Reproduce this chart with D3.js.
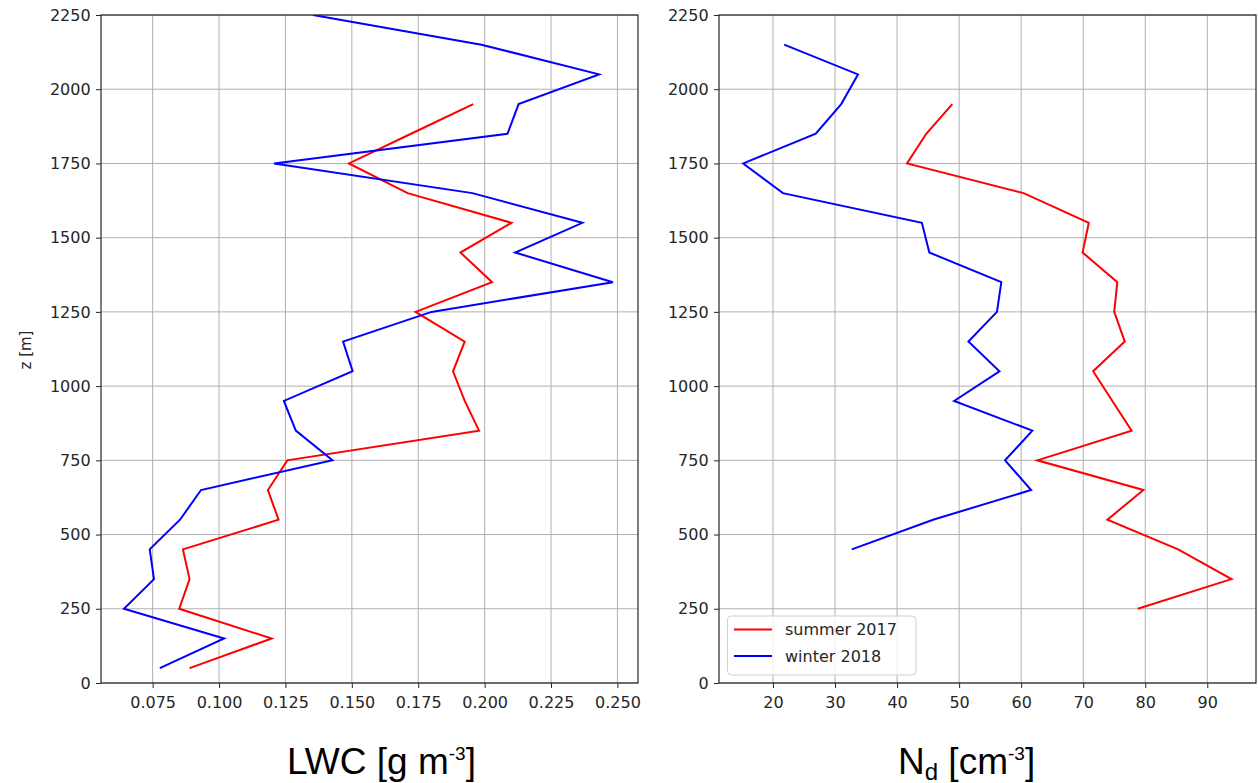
<!DOCTYPE html>
<html><head><meta charset="utf-8">
<script src="https://cdn.jsdelivr.net/npm/d3@7"></script>
<style>body{margin:0;background:#fff}svg{display:block}</style>
</head><body>
<svg id="c" width="1258" height="783"></svg>
<script>
const zLwcSummer = [50,150,250,350,450,550,650,750,850,950,1050,1150,1250,1350,1450,1550,1650,1750,1850,1950];
const lwcSummer  = [0.0889,0.1198,0.0850,0.0889,0.0864,0.1224,0.1184,0.1257,0.1979,0.1925,0.1881,0.1925,0.1740,0.2028,0.1909,0.2101,0.1710,0.1489,0.1723,0.1957];
const zLwcWinter = [50,150,250,350,450,550,650,750,850,950,1050,1150,1250,1350,1450,1550,1650,1750,1850,1950,2050,2150,2250];
const lwcWinter  = [0.0777,0.1019,0.0642,0.0755,0.0739,0.0853,0.0932,0.1427,0.1289,0.1244,0.1503,0.1467,0.1800,0.2483,0.2115,0.2368,0.1954,0.1207,0.2086,0.2128,0.2431,0.1988,0.1354];
const zNdSummer = [250,350,450,550,650,750,850,950,1050,1150,1250,1350,1450,1550,1650,1750,1850,1950];
const ndSummer  = [78.8,93.9,85.3,73.9,79.7,62.6,77.8,74.7,71.6,76.7,75.0,75.5,69.9,70.9,60.4,41.6,44.7,48.9];
const zNdWinter = [450,550,650,750,850,950,1050,1150,1250,1350,1450,1550,1650,1750,1850,1950,2050,2150];
const ndWinter  = [32.7,45.8,61.6,57.4,61.8,49.2,56.5,51.5,56.1,56.8,45.2,44.0,21.6,15.2,26.9,31.0,33.7,21.8];
const zTicks = [0,250,500,750,1000,1250,1500,1750,2000,2250];
const lwcTicks = [0.075,0.100,0.125,0.150,0.175,0.200,0.225,0.250];
const ndTicks = [20,30,40,50,60,70,80,90];
const seriesNames = ["summer 2017","winter 2018"];
const seriesColors = ["#ff0000","#0000ff"];

const svg = d3.select("#c");
const plotTop = 15, plotBottom = 683;
const y = d3.scaleLinear().domain([0,2250]).range([plotBottom, plotTop]);

function panel(x0, x1, xdom, xticks, fmt, series) {
  const x = d3.scaleLinear().domain(xdom).range([x0, x1]);
  const g = svg.append("g");
  g.selectAll(".gx").data(xticks).enter().append("line")
    .attr("x1", d=>x(d)).attr("x2", d=>x(d)).attr("y1", plotTop).attr("y2", plotBottom)
    .attr("stroke", "#b0b0b0").attr("stroke-width", 1);
  g.selectAll(".gy").data(zTicks).enter().append("line")
    .attr("x1", x0).attr("x2", x1).attr("y1", d=>y(d)).attr("y2", d=>y(d))
    .attr("stroke", "#b0b0b0").attr("stroke-width", 1);
  const clipId = "clip" + Math.round(x0);
  svg.append("clipPath").attr("id", clipId).append("rect")
    .attr("x", x0).attr("y", plotTop).attr("width", x1-x0).attr("height", plotBottom-plotTop);
  series.forEach(s => {
    const pts = s.z.map((z,i)=>[s.v[i], z]);
    g.append("path").datum(pts)
      .attr("clip-path", `url(#${clipId})`)
      .attr("fill","none").attr("stroke", s.color).attr("stroke-width", 2)
      .attr("d", d3.line().x(d=>x(d[0])).y(d=>y(d[1])));
  });
  const ax = g.append("g").attr("transform", `translate(0,${plotBottom})`)
    .call(d3.axisBottom(x).tickValues(xticks).tickFormat(fmt).tickSize(5).tickSizeOuter(0));
  const ay = g.append("g").attr("transform", `translate(${x0},0)`)
    .call(d3.axisLeft(y).tickValues(zTicks).tickFormat(d3.format("d")).tickSize(5).tickSizeOuter(0));
  [ax, ay].forEach(a => {
    a.select(".domain").remove();
    a.selectAll("text").attr("font-family","DejaVu Sans").attr("font-size", 16).attr("fill","#262626");
    a.selectAll("line").attr("stroke","#262626");
  });
  ax.selectAll("text").attr("dy", "1.05em");
  ay.selectAll("text").attr("dx", "-0.15em");
  g.append("rect").attr("x", x0).attr("y", plotTop).attr("width", x1-x0).attr("height", plotBottom-plotTop)
    .attr("fill","none").attr("stroke","#262626").attr("stroke-width",1.2);
  return x;
}

panel(101, 638, [0.05555, 0.25775], lwcTicks, d3.format(".3f"), [
  {z: zLwcSummer, v: lwcSummer, color: seriesColors[0]},
  {z: zLwcWinter, v: lwcWinter, color: seriesColors[1]}
]);
panel(719, 1256, [11.30, 97.85], ndTicks, d3.format("d"), [
  {z: zNdSummer, v: ndSummer, color: seriesColors[0]},
  {z: zNdWinter, v: ndWinter, color: seriesColors[1]}
]);

svg.append("text").attr("transform","translate(31,350) rotate(-90)")
  .attr("text-anchor","middle").attr("font-family","DejaVu Sans").attr("font-size",15)
  .attr("fill","#262626").text("z [m]");

const lg = svg.append("g");
lg.append("rect").attr("x",727.5).attr("y",616).attr("width",188.5).attr("height",59).attr("rx",4)
  .attr("fill","#fff").attr("fill-opacity",0.8).attr("stroke","#d0d0d0");
seriesNames.forEach((n,i)=>{
  const yy = 629.5 + i*26.5;
  lg.append("line").attr("x1",734).attr("x2",772).attr("y1",yy).attr("y2",yy)
    .attr("stroke",seriesColors[i]).attr("stroke-width",2);
  lg.append("text").attr("x",785).attr("y",yy+5.5).attr("font-family","DejaVu Sans")
    .attr("font-size",16).attr("fill","#262626").text(n);
});

const t1 = svg.append("text").attr("x",287).attr("y",773.5).attr("font-family","Liberation Sans, Arial")
  .attr("font-size",37).attr("fill","#000");
t1.append("tspan").text("LWC [g m");
t1.append("tspan").attr("font-size",19).attr("dy",-13.5).text("-3");
t1.append("tspan").attr("dy",13.5).text("]");
const t2 = svg.append("text").attr("x",898).attr("y",773.5).attr("font-family","Liberation Sans, Arial")
  .attr("font-size",37).attr("fill","#000");
t2.append("tspan").text("N");
t2.append("tspan").attr("font-size",24).attr("dy",6).text("d");
t2.append("tspan").attr("dy",-6).text(" [cm");
t2.append("tspan").attr("font-size",19).attr("dy",-13.5).text("-3");
t2.append("tspan").attr("dy",13.5).text("]");
</script>
</body></html>
